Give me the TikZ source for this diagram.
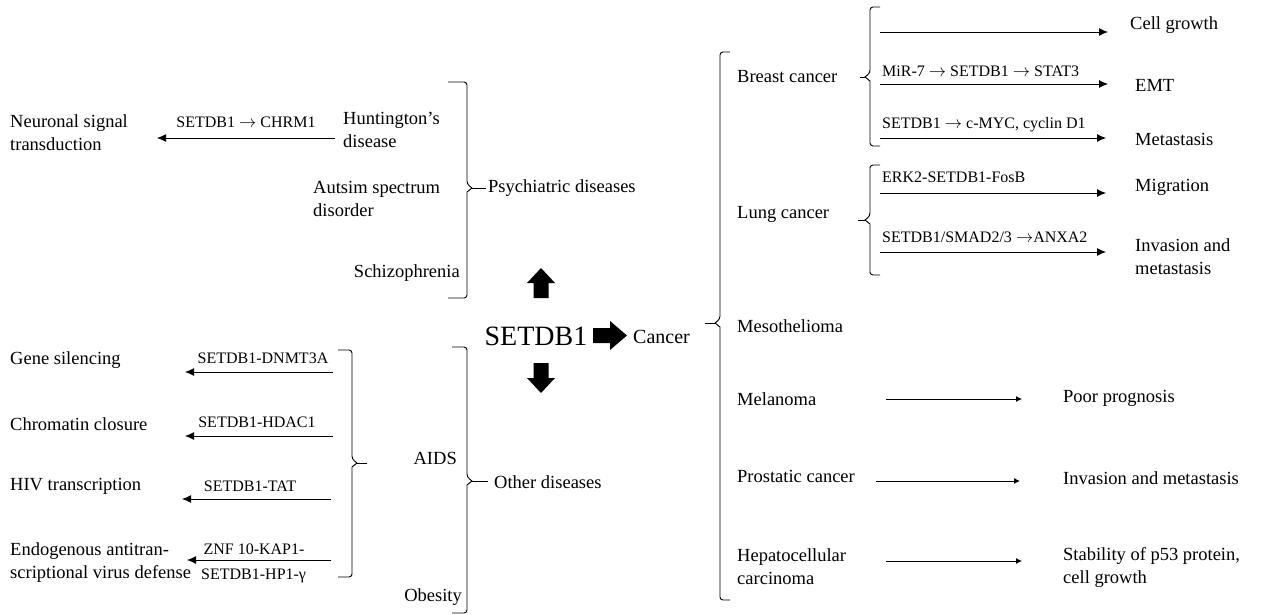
\documentclass[tikz,border=0pt]{standalone}
\usepackage{fontspec}
\setmainfont{Liberation Serif}
\usetikzlibrary{arrows.meta}

\tikzset{
  txt/.style={font=\fontsize{18.5}{23}\selectfont, inner sep=0pt, align=left},
  lbl/.style={font=\fontsize{16}{19}\selectfont, inner sep=0pt},
  arr/.style={line width=0.9pt, -{Latex[length=9pt,width=8pt]}},
  arrs/.style={line width=0.9pt, -{Latex[length=6pt,width=6pt]}},
  brk/.style={line width=0.9pt},
}

% bracket opening to the left, cusp on the right: x, top, mid, bottom, tick, dash end
\newcommand{\bracketR}[6]{%
  \draw[brk, rounded corners=3pt] (#1-#5,#2) -- (#1,#2) -- (#1,#3-4) [sharp corners] -- (#1+5,#3) -- (#1,#3+4) [rounded corners=3pt] -- (#1,#4) -- (#1-#5,#4);
  \draw[brk] (#1+5,#3) -- (#6,#3);}
% bracket opening to the right, cusp on the left: x, top, mid, bottom, tick, dash start
\newcommand{\bracketL}[6]{%
  \draw[brk, rounded corners=3pt] (#1+#5,#2) -- (#1,#2) -- (#1,#3-4) [sharp corners] -- (#1-5,#3) -- (#1,#3+4) [rounded corners=3pt] -- (#1,#4) -- (#1+#5,#4);
  \draw[brk] (#1-5,#3) -- (#6,#3);}
% arrow between two named coordinates: name, style, x from, x to, y
\newcommand{\conn}[5]{%
  \coordinate (#1-s) at (#3,#5);
  \coordinate (#1-e) at (#4,#5);
  \draw[#2] (#1-s) -- (#1-e);}

\begin{document}
\begin{tikzpicture}[x=1pt, y=-1pt]
    \useasboundingbox (0,0) rectangle (1262,615);

    % 1. Psychiatric diseases
    \node[txt, anchor=west] (nst) at (10,133) {Neuronal signal\\transduction};
    \node[lbl] (chrm) at (246,122) {SETDB1 $\rightarrow$ CHRM1};
    \conn{hd}{arr}{335}{157}{138}
    \node[txt, anchor=west] (hunt) at (343,130) {Huntington’s\\disease};
    \node[txt, anchor=west] (asd) at (313,199) {Autsim spectrum\\disorder};
    \node[txt, anchor=east] (schiz) at (460,273) {Schizophrenia};
    \bracketR{467}{82}{188}{298}{19}{486}
    \node[txt, anchor=west] (psy) at (488,188) {Psychiatric diseases};

    % 2. SETDB1 and the block arrows
    \node[font=\fontsize{28}{32}\selectfont, inner sep=0pt] (setdb) at (536,336) {SETDB1};
    \fill (533.5,298) -- (533.5,283) -- (527,283) -- (541,268) -- (555,283) -- (548.5,283) -- (548.5,298) -- cycle;
    \fill (533.5,363) -- (533.5,378) -- (527,378) -- (541,393) -- (555,378) -- (548.5,378) -- (548.5,363) -- cycle;
    \fill (593,328) -- (610,328) -- (610,321) -- (627,335.5) -- (610,350) -- (610,343) -- (593,343) -- cycle;
    \node[font=\fontsize{20}{24}\selectfont, inner sep=0pt, anchor=west] (cancer) at (633,337) {Cancer};

    % 3. Other diseases
    \node[txt, anchor=west] (gs) at (10,360) {Gene silencing};
    \node[lbl] (dnmt) at (263,358) {SETDB1-DNMT3A};
    \conn{dn}{arr}{333}{185}{372}
    \node[txt, anchor=west] (cc) at (10,424) {Chromatin closure};
    \node[lbl] (hdac) at (257,422) {SETDB1-HDAC1};
    \conn{hdc}{arr}{333}{185}{436}
    \node[txt, anchor=west] (hiv) at (10,486) {HIV transcription};
    \node[lbl] (tat) at (250,486) {SETDB1-TAT};
    \conn{tt}{arr}{331}{182}{499}
    \node[txt, anchor=west] (evd) at (10,563) {Endogenous antitran-\\scriptional virus defense};
    \node[lbl] (znf) at (254,549) {ZNF 10-KAP1-};
    \node[lbl, anchor=west] (hp) at (201,576) {SETDB1-HP1-γ};
    \conn{zn}{arr}{331}{187}{560}
    \bracketR{352}{350}{463}{577}{14}{367}
    \node[txt, anchor=east] (aids) at (457,458) {AIDS};
    \node[txt, anchor=east] (obes) at (462,597) {Obesity};
    \bracketR{467}{347}{481}{613}{15}{488}
    \node[txt, anchor=west] (other) at (494,482) {Other diseases};

    % 4. Cancer
    \bracketL{720}{52}{323}{600}{10}{705}

    % Breast cancer
    \bracketL{870}{7}{77}{146}{10}{860}
    \node[txt, anchor=west] (bc) at (737,77) {Breast cancer};
    \conn{cg}{arr}{880}{1108}{32}
    \node[txt, anchor=west] (cgr) at (1130,25) {Cell growth};
    \node[lbl, anchor=west] (mir) at (882,71) {MiR-7 $\rightarrow$ SETDB1 $\rightarrow$ STAT3};
    \conn{emt}{arr}{880}{1108}{84}
    \node[txt, anchor=west] (emtx) at (1135,85) {EMT};
    \node[lbl, anchor=west] (myc) at (882,125) {SETDB1 $\rightarrow$ c-MYC, cyclin D1};
    \conn{met}{arr}{880}{1106}{138}
    \node[txt, anchor=west] (metx) at (1135,139) {Metastasis};

    % Lung cancer
    \bracketL{870}{165}{220}{275}{10}{858}
    \node[txt, anchor=west] (lc) at (737,214) {Lung cancer};
    \node[lbl, anchor=west] (erk) at (882,177) {ERK2-SETDB1-FosB};
    \conn{mig}{arr}{880}{1106}{193}
    \node[txt, anchor=west] (migx) at (1135,187) {Migration};
    \node[lbl, anchor=west] (smad) at (882,237) {SETDB1/SMAD2/3 $\rightarrow$ANXA2};
    \conn{inv}{arr}{880}{1106}{252}
    \node[txt, anchor=west] (invx) at (1135,257) {Invasion and\\metastasis};

    % remaining cancers
    \node[txt, anchor=west] (meso) at (737,326) {Mesothelioma};
    \node[txt, anchor=west] (mela) at (737,399) {Melanoma};
    \conn{pp}{arrs}{886}{1022}{399}
    \node[txt, anchor=west] (ppx) at (1063,398) {Poor prognosis};
    \node[txt, anchor=west] (pros) at (737,476) {Prostatic cancer};
    \conn{im}{arrs}{876}{1020}{481}
    \node[txt, anchor=west] (imx) at (1063,478) {Invasion and metastasis};
    \node[txt, anchor=west] (hcc) at (737,567) {Hepatocellular\\carcinoma};
    \conn{st}{arrs}{886}{1022}{561}
    \node[txt, anchor=west] (stx) at (1063,567) {Stability of p53 protein,\\cell growth};
\end{tikzpicture}
\end{document}
